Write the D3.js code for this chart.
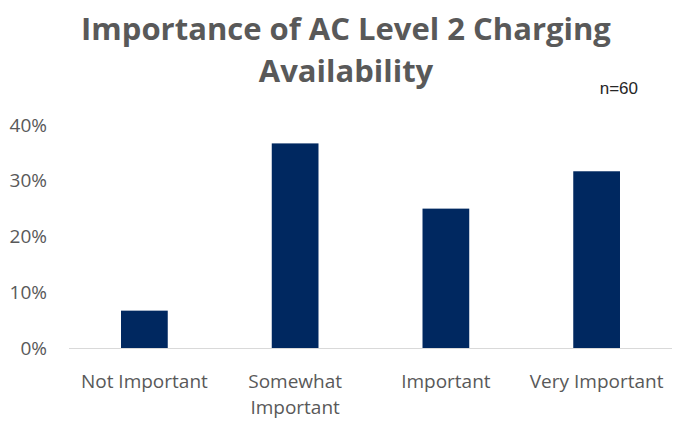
<!DOCTYPE html>
<html>
<head>
<meta charset="utf-8">
<script src="https://cdn.jsdelivr.net/npm/d3@7"></script>
<style>
  body { margin: 0; background: #fff; }
  text { font-family: "Open Sans", "Liberation Sans", sans-serif; }
</style>
</head>
<body>
<script>
// data
const categories = ["Not Important", "Somewhat Important", "Important", "Very Important"];
const shares = [0.067, 0.367, 0.25, 0.317];
const yTicks = [0, 0.1, 0.2, 0.3, 0.4];
const titleLines = ["Importance of AC Level 2 Charging", "Availability"];
const note = "n=60";

const width = 677, height = 421;
const margin = {top: 125, right: 5, bottom: 73, left: 69};

const svg = d3.select("body").append("svg")
    .attr("width", width)
    .attr("height", height);

const x = d3.scaleBand()
    .domain(categories)
    .range([margin.left, width - margin.right])
    .paddingInner(0.69)
    .paddingOuter(0.345);

const y = d3.scaleLinear()
    .domain([0, 0.4])
    .range([height - margin.bottom, margin.top]);

// title
svg.selectAll(".title")
    .data(titleLines)
    .enter().append("text")
    .attr("class", "title")
    .attr("x", 346)
    .attr("y", (d, i) => 40 + i * 42)
    .attr("text-anchor", "middle")
    .style("font-size", "31px")
    .style("font-weight", "bold")
    .style("fill", "#595959")
    .text(d => d);

svg.append("text")
    .attr("x", 638)
    .attr("y", 94)
    .attr("text-anchor", "end")
    .style("font-family", "Liberation Sans, Arial, sans-serif")
    .style("font-size", "17px")
    .style("fill", "#262626")
    .text(note);

// y axis labels (no line)
const yAxis = svg.append("g")
    .attr("transform", "translate(" + (margin.left - 22) + ",0)")
    .call(d3.axisLeft(y).tickValues(yTicks).tickFormat(d3.format(".0%")).tickSize(0).tickPadding(0));
yAxis.select(".domain").remove();
yAxis.selectAll("text")
    .style("font-family", "Open Sans, sans-serif")
    .style("font-size", "19px")
    .style("fill", "#595959");

// bars
svg.selectAll(".bar")
    .data(shares)
    .enter().append("rect")
    .attr("class", "bar")
    .attr("x", (d, i) => x(categories[i]))
    .attr("width", x.bandwidth())
    .attr("y", d => y(d))
    .attr("height", d => y(0) - y(d))
    .attr("fill", "#002860");

// x axis line
svg.append("line")
    .attr("x1", margin.left)
    .attr("x2", width - margin.right)
    .attr("y1", y(0) + 0.5)
    .attr("y2", y(0) + 0.5)
    .attr("stroke", "#d9d9d9")
    .attr("stroke-width", 1);

// category labels, wrapped like the original
const wrap = {"Somewhat Important": ["Somewhat", "Important"]};
categories.forEach(function (c) {
    const lines = wrap[c] || [c];
    const t = svg.append("text")
        .attr("text-anchor", "middle")
        .style("font-size", "19px")
        .style("fill", "#595959");
    lines.forEach(function (l, i) {
        t.append("tspan")
            .attr("x", x(c) + x.bandwidth() / 2)
            .attr("y", 388 + i * 26)
            .text(l);
    });
});
</script>
</body>
</html>
